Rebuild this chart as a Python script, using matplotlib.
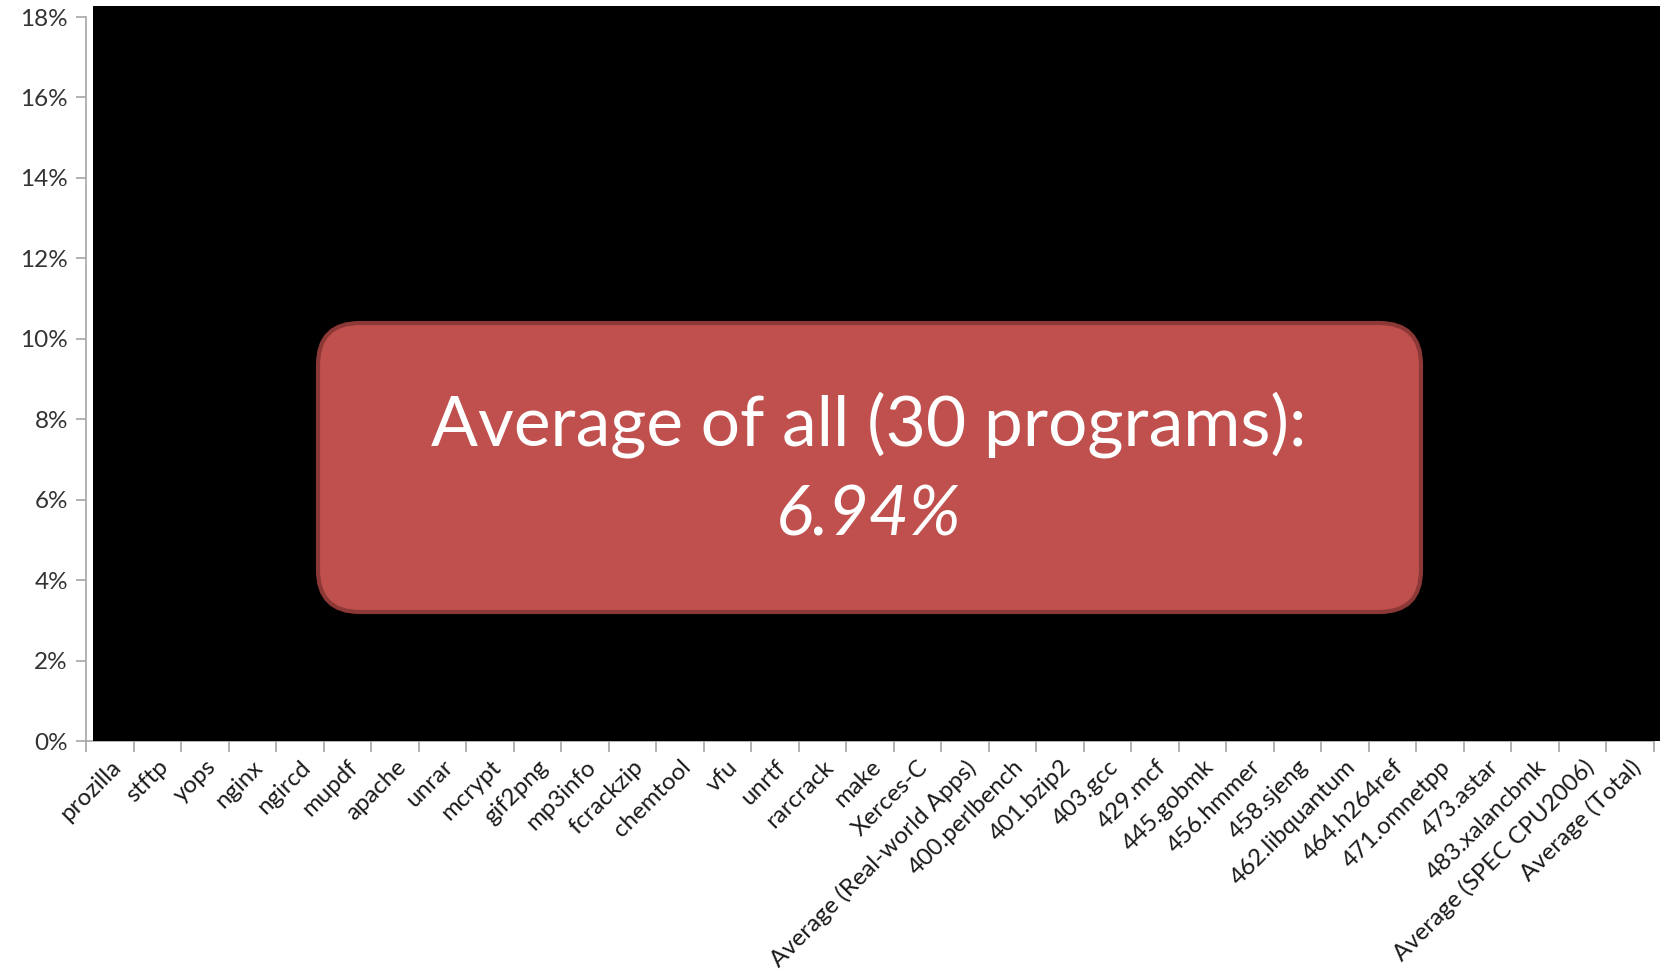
import matplotlib.pyplot as plt
from matplotlib.patches import Rectangle, FancyBboxPatch

plt.rcParams['font.family'] = ['Lato', 'DejaVu Sans']

programs = ['prozilla', 'stftp', 'yops', 'nginx', 'ngircd', 'mupdf', 'apache', 'unrar',
            'mcrypt', 'gif2png', 'mp3info', 'fcrackzip', 'chemtool', 'vfu', 'unrtf',
            'rarcrack', 'make', 'Xerces-C', 'Average (Real-world Apps)', '400.perlbench',
            '401.bzip2', '403.gcc', '429.mcf', '445.gobmk', '456.hmmer', '458.sjeng',
            '462.libquantum', '464.h264ref', '471.omnetpp', '473.astar', '483.xalancbmk',
            'Average (SPEC CPU2006)', 'Average (Total)']
y_ticks = [0, 2, 4, 6, 8, 10, 12, 14, 16, 18]
n_programs = 30
avg_total = 6.94

fig = plt.figure(figsize=(16.6, 9.8), dpi=100)
ax = fig.add_axes([86 / 1660, 1 - 741 / 980, (1654 - 86) / 1660, (741 - 17) / 980])

n = len(programs)
ax.set_xlim(-0.5, n - 0.5)
ax.set_ylim(0, 18)
ax.set_yticks(y_ticks)
ax.set_yticklabels([f'{v}%' for v in y_ticks], fontsize=17.5, color='#333333')
ax.set_xticks(range(n))
ax.set_xticklabels(programs, rotation=45, ha='right', va='top',
                   rotation_mode='anchor', fontsize=17.3, color='#1a1a1a')
ax.set_xticks([i - 0.5 for i in range(n + 1)], minor=True)
ax.tick_params(axis='x', which='major', length=0, pad=11)
ax.tick_params(axis='x', which='minor', length=8, color='#a6a6a6', width=1.2)
ax.tick_params(axis='y', length=7, color='#a6a6a6', width=1.2, pad=6)
for s in ['top', 'right']:
    ax.spines[s].set_visible(False)
for s in ['left', 'bottom']:
    ax.spines[s].set_color('#a6a6a6')
    ax.spines[s].set_linewidth(1.2)

# black cover over the plot area
fig.patches.append(Rectangle((93 / 1660, 1 - 741 / 980), 1 - 93 / 1660, (741 - 6) / 980,
                             transform=fig.transFigure, facecolor='black',
                             edgecolor='none', zorder=5))

# rounded callout (inches)
box = FancyBboxPatch((3.18, 3.68), 14.21 - 3.18, 6.57 - 3.68,
                     boxstyle='round,pad=0,rounding_size=0.42',
                     transform=fig.dpi_scale_trans, facecolor='#c0504d',
                     edgecolor='#8c3836', linewidth=3, zorder=6)
fig.patches.append(box)
fig.text(8.69, 5.55, f'Average of all ({n_programs} programs):', transform=fig.dpi_scale_trans,
         ha='center', va='center', fontsize=50, color='white', zorder=7)
fig.text(8.69, 4.64, f'{avg_total:.2f}%', transform=fig.dpi_scale_trans,
         ha='center', va='center', fontsize=50, color='white', style='italic', zorder=7)

fig.savefig('out.png', dpi=100)
